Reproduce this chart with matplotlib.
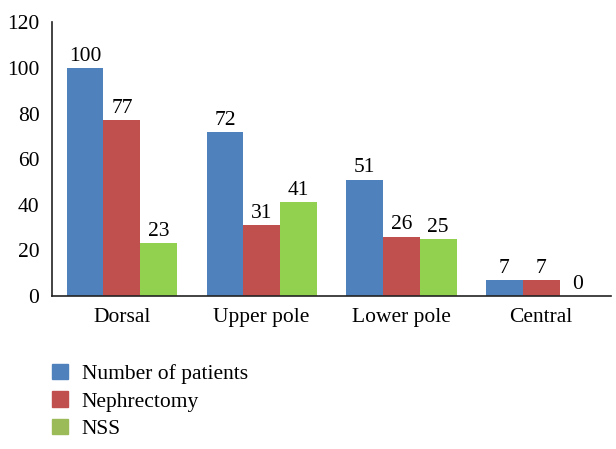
import numpy as np
import matplotlib.pyplot as plt
from matplotlib.patches import Patch

categories = ["Dorsal", "Upper pole", "Lower pole", "Central"]
series_names = ["Number of patients", "Nephrectomy", "NSS"]
patients = [100, 72, 51, 7]
nephrectomy = [77, 31, 26, 7]
nss = [23, 41, 25, 0]

bar_colors = ["#4F81BD", "#C0504D", "#92D050"]
legend_colors = ["#4F81BD", "#C0504D", "#9BBB59"]

plt.rcParams['font.family'] = ['Liberation Serif', 'DejaVu Serif']
fs = 15.5

fig = plt.figure(figsize=(6.16, 4.49), dpi=100)
ax = fig.add_axes([0.0844, 0.341, 0.9076, 0.609])

x = np.arange(len(categories))
w = 0.263
for i, (vals, col) in enumerate(zip([patients, nephrectomy, nss], bar_colors)):
    pos = x + (i - 1) * w
    ax.bar(pos, vals, width=w, color=col)
    for p, v in zip(pos, vals):
        ax.text(p, v + 1.0, str(v), ha="center", va="bottom", fontsize=fs)

ax.set_xlim(-0.5, 3.5)
ax.set_ylim(0, 120)
ax.set_yticks(range(0, 121, 20))
ax.set_xticks(x)
ax.set_xticklabels(categories, fontsize=fs)
ax.tick_params(axis="y", labelsize=fs, length=0, pad=9)
ax.tick_params(axis="x", length=0, pad=9)
for s in ["top", "right"]:
    ax.spines[s].set_visible(False)
for s in ["left", "bottom"]:
    ax.spines[s].set_linewidth(1.2)
    ax.spines[s].set_color("#222222")

handles = [Patch(color=c) for c in legend_colors]
fig.legend(handles, series_names, loc="upper left", bbox_to_anchor=(0.084, 0.19),
           frameon=False, fontsize=fs, handlelength=0.75, handleheight=0.75,
           handletextpad=0.65, labelspacing=0.33, borderaxespad=0, borderpad=0)

fig.savefig("out.png", dpi=100)
